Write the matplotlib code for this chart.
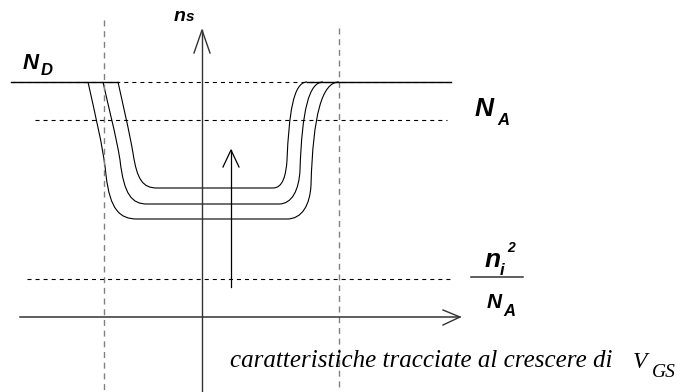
import matplotlib
matplotlib.use('Agg')
import matplotlib.pyplot as plt
from matplotlib.path import Path
from matplotlib.patches import PathPatch

plt.rcParams['lines.scale_dashes'] = False

# ── geometry (pixel-like units, y grows downward) ─────────────────────────────
W, H = 686, 392

# levels of the horizontal reference lines
Y_ND, Y_NA, Y_NI = 82, 120, 279
# x / y axes
X_AXIS_Y = 317
Y_AXIS_X = 202
# vertical dashed guides
GUIDE_X = [104, 339]
GUIDE_TOP = [20, 28]

# three ns(x) curves: start, wall, corner, flat bottom, corner, wall
curve_inner = [(118, 82), (123, 105), (129, 130), (133, 153),
               (137, 180), (143, 188), (157, 188),
               (273, 188),
               (283, 188), (286, 175), (287, 160),
               (289, 115), (293, 82), (307, 82)]
curve_mid = [(103, 82), (108, 105), (116, 135), (120, 160),
             (124, 195), (132, 204), (147, 204),
             (279, 204),
             (292, 204), (299, 190), (300, 170),
             (302, 110), (309, 82), (323, 82)]
curve_outer = [(88, 82), (94, 110), (103, 145), (106, 175),
               (110, 210), (120, 219), (137, 219),
               (287, 219),
               (302, 219), (310, 205), (311, 185),
               (313, 115), (322, 82), (339, 82)]
curves = [curve_inner, curve_mid, curve_outer]

C4 = Path.CURVE4
curve_codes = [Path.MOVETO, C4, C4, C4, C4, C4, C4, Path.LINETO,
               C4, C4, C4, C4, C4, C4]

fig = plt.figure(figsize=(W / 100, H / 100), dpi=100)
ax = fig.add_axes([0, 0, 1, 1])
ax.set_xlim(0, W)
ax.set_ylim(H, 0)
ax.axis('off')

HDASH = (2.9, 2.9)
VDASH = (4.3, 3.4)

# vertical dashed guides
for gx, gt in zip(GUIDE_X, GUIDE_TOP):
    ax.plot([gx, gx], [gt, H], color='#808080', lw=1.0, dashes=VDASH)

# horizontal reference levels
ax.plot([11, 450], [Y_ND, Y_ND], color='black', lw=0.8, dashes=HDASH)
ax.plot([11, 118], [Y_ND, Y_ND], color='black', lw=1.0)
ax.plot([307, 451], [Y_ND, Y_ND], color='black', lw=1.0)
ax.plot([35, 447], [Y_NA, Y_NA], color='black', lw=0.8, dashes=HDASH)
ax.plot([27, 452], [Y_NI, Y_NI], color='black', lw=0.8, dashes=HDASH)

# curves
for c in curves:
    ax.add_patch(PathPatch(Path(c, curve_codes), fill=False,
                           edgecolor='black', lw=0.8))

# axes with open arrowheads
ax.plot([20, 460], [X_AXIS_Y, X_AXIS_Y], color='#333333', lw=1.1)
ax.plot([443, 460, 443], [X_AXIS_Y - 7, X_AXIS_Y, X_AXIS_Y + 8],
        color='#333333', lw=1.0)
ax.plot([Y_AXIS_X, Y_AXIS_X], [H, 30], color='#333333', lw=1.0)
ax.plot([Y_AXIS_X - 8, Y_AXIS_X, Y_AXIS_X + 8], [53, 30, 53],
        color='#333333', lw=1.0)

# arrow showing the shift of the curves
ax.plot([231, 231], [287, 150], color='black', lw=0.9)
ax.plot([223, 231, 239], [167, 150, 167], color='black', lw=0.9)

# ── labels ────────────────────────────────────────────────────────────────────
sans = dict(family='Liberation Sans', weight='bold', style='italic',
            va='baseline', ha='left')
serif = dict(family='Liberation Serif', style='italic',
             va='baseline', ha='left')

ax.text(23, 69, 'N', fontsize=16, **sans)
ax.text(41, 75, 'D', fontsize=12, **sans)

ax.text(475, 116, 'N', fontsize=19, **sans)
ax.text(497, 125, 'A', fontsize=12, **sans)

ax.text(174, 21, 'n', fontsize=14, **sans)
ax.text(186, 21, 's', fontsize=11, **sans)

ax.text(485, 267, 'n', fontsize=19, **sans)
ax.text(500, 275, 'i', fontsize=12, **sans)
ax.text(507, 252, '2', fontsize=10, **sans)
ax.plot([471, 523], [277, 277], color='#333333', lw=1.1)
ax.text(487, 308, 'N', fontsize=15, **sans)
ax.text(503, 316, 'A', fontsize=12, **sans)

ax.text(230, 367, 'caratteristiche tracciate al crescere di', fontsize=18, **serif)
ax.text(633, 368, 'V', fontsize=17, **serif)
ax.text(652, 377, 'GS', fontsize=14, **serif)

fig.savefig('out.png', dpi=100)
